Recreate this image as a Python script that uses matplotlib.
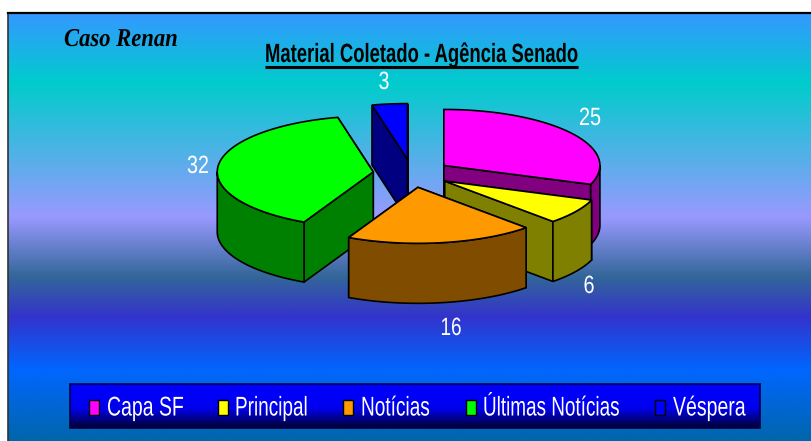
import numpy as np
import matplotlib
matplotlib.use('Agg')
import matplotlib.pyplot as plt
import matplotlib.patheffects as pe
from matplotlib.colors import LinearSegmentedColormap
from matplotlib.patches import Polygon, Rectangle
from matplotlib.transforms import Affine2D

#%% data
categories = ['Capa SF', 'Principal', 'Notícias', 'Últimas Notícias', 'Véspera']
values = [25, 6, 16, 32, 3]
top_colors = ['#FF00FF', '#FFFF00', '#FF9900', '#00FF00', '#0000FF']
side_colors = ['#800080', '#808000', '#804C00', '#008000', '#000080']
title = 'Material Coletado - Agência Senado'
note = 'Caso Renan'

# background gradient, pixel row and colour
grad_y = [14, 83, 217, 277, 317, 370, 441]
grad_c = ['#3399FF', '#00CCCC', '#9999FF', '#336699', '#3333CC', '#0066FF', '#0066AA']

#%% layout in pixels
W, H = 811, 441
cx, cy = 412, 173.5
rx, ry = 156, 56
depth = 60
explode = 0.25
label_xy = [(590, 125), (589, 293), (451, 335), (198, 173), (384, 89)]
label_w = [22, 11, 21, 22, 11]
swatch_x = [89, 218, 343, 466, 655]
legend_text_x = [107, 235, 361, 483, 673]
legend_text_w = [77, 73, 69, 137, 73]

plt.rcParams['font.family'] = ['Liberation Sans']

fig = plt.figure(figsize=(W/100, H/100), dpi=100)
ax = fig.add_axes([0, 0, 1, 1])
ax.set_xlim(0, W)
ax.set_ylim(H, 0)
ax.axis('off')
renderer = fig.canvas.get_renderer()


# the original text is set very tight, squeeze it sideways around the anchor
class Squeeze(pe.AbstractPathEffect):
    def __init__(self, x0, sx):
        super().__init__()
        self.x0 = x0
        self.sx = sx

    def draw_path(self, renderer, gc, tpath, affine, rgbFace=None):
        t = affine+Affine2D().translate(-self.x0, 0).scale(self.sx, 1).translate(self.x0, 0)
        renderer.draw_path(gc, tpath, t, rgbFace)


def tight_text(x, y, s, width, **kw):
    tt = ax.text(x, y, s, va='baseline', zorder=50, **kw)
    full = tt.get_window_extent(renderer).width
    tt.set_path_effects([Squeeze(x, width/full)])
    return tt


# background
rows = np.arange(14, H)
stops = [(y-14)/(H-14) for y in grad_y]
cmap = LinearSegmentedColormap.from_list('bg', list(zip(stops, grad_c)))
ax.imshow(((rows-14)/(H-14)).reshape(-1, 1), cmap=cmap, vmin=0, vmax=1,
          extent=[8, W, H, 13], aspect='auto', zorder=0, interpolation='bilinear')
ax.set_xlim(0, W)
ax.set_ylim(H, 0)
ax.plot([8, 8], [H, 13], color='#333333', lw=1.2, zorder=1)
ax.plot([8, W], [13, 13], color='black', lw=1.6, zorder=1)


def rim(ang, ox, oy):
    return ox+rx*np.sin(ang), oy-ry*np.cos(ang)


#%% pie, angles clockwise from 12 o'clock
frac = np.array(values)/np.sum(values)*2*np.pi
ends = np.cumsum(frac)
starts = ends-frac
z = 5
for ii in [4, 3, 0, 1, 2]:
    a0, a1 = starts[ii], ends[ii]
    mid = (a0+a1)/2
    ox = cx+explode*rx*np.sin(mid)
    oy = cy-explode*ry*np.cos(mid)
    # cut faces, back one first
    faces = []
    for aa in [a0, a1]:
        px, py = rim(aa, ox, oy)
        faces.append([(ox, oy), (px, py), (px, py+depth), (ox, oy+depth)])
    faces.sort(key=lambda f: np.mean([p[1] for p in f]))
    for f in faces:
        ax.add_patch(Polygon(f, closed=True, fc=side_colors[ii], ec='black', lw=1.2, zorder=z))
        z += 1
    # outer wall, only the front half of the ellipse shows
    lo, hi = max(a0, np.pi/2), min(a1, 3*np.pi/2)
    if hi > lo:
        t = np.linspace(lo, hi, 60)
        x, y = rim(t, ox, oy)
        wall = np.r_[np.c_[x, y], np.c_[x[::-1], y[::-1]+depth]]
        ax.add_patch(Polygon(wall, closed=True, fc=side_colors[ii], ec='black', lw=1.2, zorder=z))
        z += 1
    # top
    t = np.linspace(a0, a1, 120)
    x, y = rim(t, ox, oy)
    top = np.r_[[(ox, oy)], np.c_[x, y]]
    ax.add_patch(Polygon(top, closed=True, fc=top_colors[ii], ec='black', lw=1.2, zorder=z))
    z += 1

for ii in range(5):
    tight_text(label_xy[ii][0], label_xy[ii][1], str(values[ii]), label_w[ii], color='white',
               fontsize=18, ha='center')

#%% titles
tight_text(421.5, 62, title, 313, color='black', fontsize=19, fontweight='bold', ha='center')
ax.plot([265, 578], [66.5, 66.5], color='black', lw=2.2, zorder=50, solid_capstyle='butt')
tight_text(64, 46, note, 114, color='black', fontsize=18.5, fontweight='bold', style='italic',
           family='Liberation Serif', ha='left')

#%% legend
ll = np.linspace(0, 1, 64).reshape(-1, 1)
lg_cmap = LinearSegmentedColormap.from_list('lg', [(0, '#0000FF'), (0.55, '#0000EE'), (1, '#000033')])
ax.imshow(ll, cmap=lg_cmap, extent=[70, 760, 428, 384], aspect='auto', zorder=40)
ax.set_xlim(0, W)
ax.set_ylim(H, 0)
ax.add_patch(Rectangle((70, 384), 690, 44, fc='none', ec='#000044', lw=1.2, zorder=41))
for ii in range(5):
    ax.add_patch(Rectangle((swatch_x[ii], 400), 10, 15, fc=top_colors[ii], ec='black', lw=1, zorder=42))
    tight_text(legend_text_x[ii], 415.5, categories[ii], legend_text_w[ii], color='white',
               fontsize=19.5, ha='left')

fig.savefig('out.png', dpi=100)
